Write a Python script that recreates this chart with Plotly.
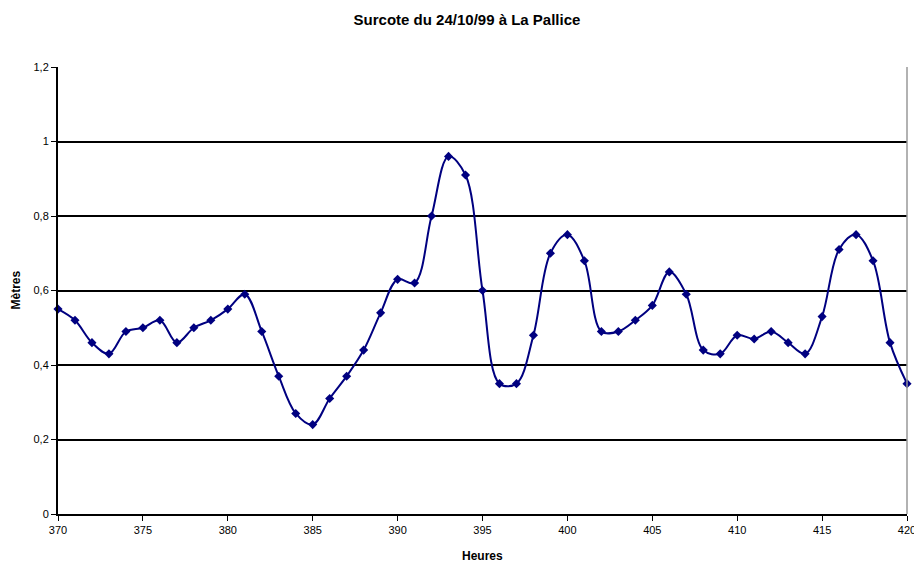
import plotly.graph_objects as go

hours = list(range(370, 421))
surcote = [0.55, 0.52, 0.46, 0.43, 0.49, 0.50, 0.52, 0.46, 0.50, 0.52,
           0.55, 0.59, 0.49, 0.37, 0.27, 0.24, 0.31, 0.37, 0.44, 0.54,
           0.63, 0.62, 0.80, 0.96, 0.91, 0.60, 0.35, 0.35, 0.48, 0.70,
           0.75, 0.68, 0.49, 0.49, 0.52, 0.56, 0.65, 0.59, 0.44, 0.43,
           0.48, 0.47, 0.49, 0.46, 0.43, 0.53, 0.71, 0.75, 0.68, 0.46,
           0.35]
y_ticks = [0, 0.2, 0.4, 0.6, 0.8, 1.0, 1.2]
y_ticktext = ["0", "0,2", "0,4", "0,6", "0,8", "1", "1,2"]
x_ticks = list(range(370, 421, 5))

font = "Liberation Sans, Arial, sans-serif"
navy = "#000080"

fig = go.Figure()
fig.add_trace(go.Scatter(
    x=hours, y=surcote, mode="lines+markers",
    line=dict(color=navy, width=2, shape="spline", smoothing=1.0),
    marker=dict(symbol="diamond", size=7, color=navy),
    showlegend=False, cliponaxis=False,
))
# right border of plot area
fig.add_shape(type="line", xref="paper", yref="paper", x0=1, x1=1, y0=0, y1=1,
              line=dict(color="#999999", width=1.5))

fig.add_annotation(text="<b>Heures</b>", xref="paper", yref="paper", x=0.5, y=-0.094,
                   xanchor="center", yanchor="middle", showarrow=False,
                   font=dict(size=12, family=font))
fig.add_annotation(text="<b>Mètres</b>", xref="paper", yref="paper", x=-0.0506, y=0.5,
                   xanchor="center", yanchor="middle", showarrow=False, textangle=-90,
                   font=dict(size=12, family=font))

fig.update_layout(
    width=914, height=555,
    margin=dict(l=50, r=15, t=59, b=49, autoexpand=False),
    paper_bgcolor="white", plot_bgcolor="white",
    font=dict(family=font, size=11, color="black"),
    title=dict(text="<b>Surcote du 24/10/99 à La Pallice</b>", x=0.5022, xanchor="center",
               y=0.978, yanchor="middle", font=dict(size=15, family=font)),
    xaxis=dict(range=[370, 420], tickvals=x_ticks, showgrid=False, zeroline=False,
               showline=True, linecolor="black", linewidth=2, automargin=False,
               ticks="outside", ticklen=5, tickcolor="black",
               ticklabeloverflow="allow"),
    yaxis=dict(range=[0, 1.2], tickvals=y_ticks, ticktext=y_ticktext,
               showgrid=True, gridcolor="black", gridwidth=1.5, zeroline=False,
               showline=True, linecolor="black", linewidth=2, automargin=False,
               ticks="outside", ticklen=5, tickcolor="black"),
)
fig.write_html("out.html")
